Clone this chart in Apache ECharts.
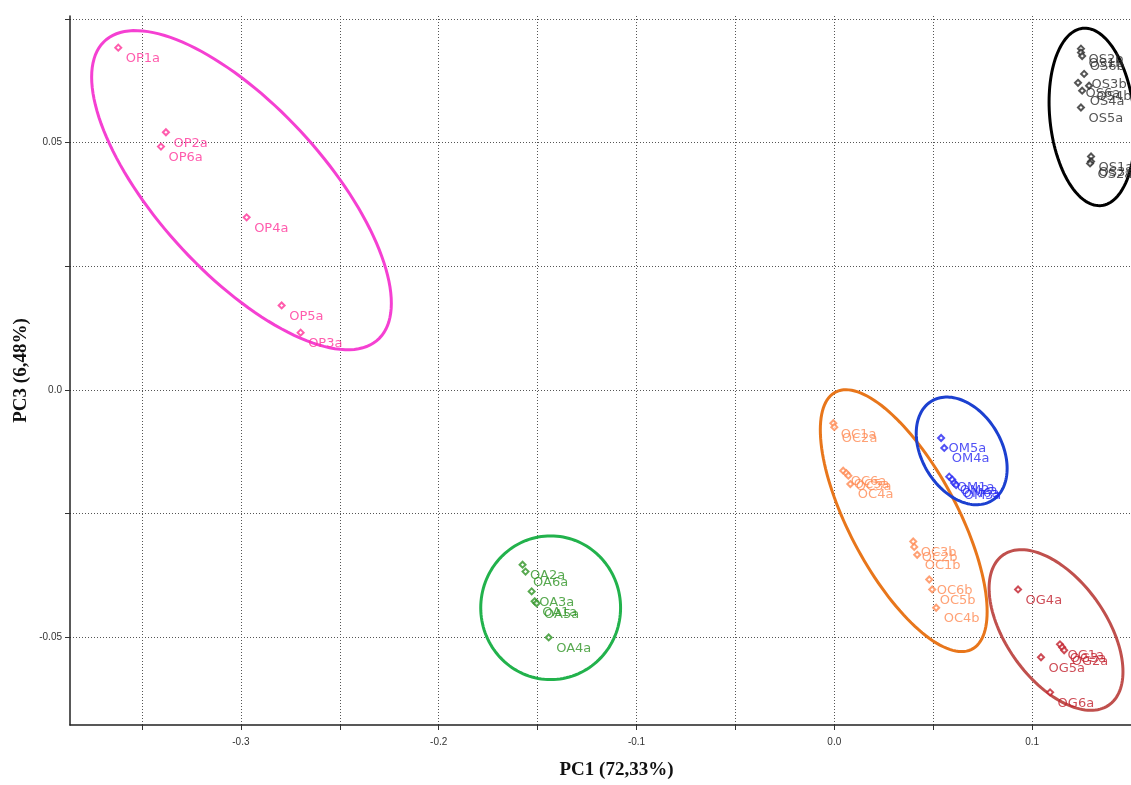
<!DOCTYPE html>
<html>
<head>
<meta charset="utf-8">
<title>PCA scores: PC1 vs PC3</title>
<script src="https://cdn.jsdelivr.net/npm/echarts@6/dist/echarts.min.js"></script>
<style>
  html, body { margin: 0; padding: 0; background: #fff; }
  #chart { width: 1131px; height: 785px; }
</style>
</head>
<body>
<div id="chart"></div>
<script>
// ---- Sample scores (PC1, PC3) per group ----
const opNames = ['OP1a', 'OP2a', 'OP6a', 'OP4a', 'OP5a', 'OP3a'];
const opPC1 = [-0.3620, -0.3379, -0.3404, -0.2971, -0.2794, -0.2698];
const opPC3 = [0.0692, 0.0521, 0.0492, 0.0349, 0.0171, 0.0116];

const osNames = ['OS2b', 'OS1b', 'OS6b', 'OS3b', 'OS6a', 'OS4b', 'OS4a', 'OS5a', 'OS1a', 'OS3a', 'OS2a'];
const osPC1 = [0.1247, 0.1247, 0.1253, 0.1263, 0.1232, 0.1288, 0.1253, 0.1247, 0.1298, 0.1298, 0.1293];
const osPC3 = [0.0690, 0.0682, 0.0675, 0.0639, 0.0621, 0.0615, 0.0605, 0.0571, 0.0472, 0.0462, 0.0458];

const ocNames = ['OC1a', 'OC2a', 'OC6a', 'OC5a', 'OC3a', 'OC4a', 'OC3b', 'OC2b', 'OC1b', 'OC6b', 'OC5b', 'OC4b'];
const ocPC1 = [-0.0005, 0.0000, 0.0045, 0.0061, 0.0071, 0.0081, 0.0399, 0.0404, 0.0419, 0.0480, 0.0495, 0.0515];
const ocPC3 = [-0.0067, -0.0075, -0.0163, -0.0168, -0.0173, -0.0190, -0.0306, -0.0317, -0.0333, -0.0383, -0.0403, -0.0440];

const omNames = ['OM5a', 'OM4a', 'OM1a', 'OM2a', 'OM6a', 'OM3a'];
const omPC1 = [0.0540, 0.0556, 0.0581, 0.0596, 0.0606, 0.0616];
const omPC3 = [-0.0097, -0.0117, -0.0175, -0.0181, -0.0188, -0.0192];

const ogNames = ['OG4a', 'OG1a', 'OG3a', 'OG2a', 'OG5a', 'OG6a'];
const ogPC1 = [0.0929, 0.1141, 0.1152, 0.1162, 0.1045, 0.1091];
const ogPC3 = [-0.0403, -0.0514, -0.0520, -0.0526, -0.0540, -0.0611];

const oaNames = ['OA2a', 'OA6a', 'OA3a', 'OA1a', 'OA5a', 'OA4a'];
const oaPC1 = [-0.1576, -0.1561, -0.1530, -0.1515, -0.1505, -0.1444];
const oaPC3 = [-0.0353, -0.0367, -0.0407, -0.0427, -0.0431, -0.0500];

// ---- Group ellipses: centre and two conjugate semi-axis vectors, in score units ----
const ellipseCentre = {
  OP: [-0.2997, 0.0404], OS: [0.1303, 0.0552], OC: [0.0351, -0.0264],
  OM: [0.0644, -0.0123], OG: [0.1121, -0.0485], OA: [-0.1434, -0.0440]
};
const ellipseAxisU = {
  OP: [0.07576, -0.02285], OS: [0.02172, -0.00300], OC: [0.04217, -0.01835],
  OM: [0.02298, -0.00355], OG: [0.03384, -0.00843], OA: [0.03535, 0]
};
const ellipseAxisV = {
  OP: [0, 0.02276], OS: [0, 0.01768], OC: [0, 0.01907],
  OM: [0, 0.01029], OG: [0, 0.01387], OA: [0, 0.01452]
};

// ---- Axis ticks ----
const pc1Ticks = [-0.35, -0.3, -0.25, -0.2, -0.15, -0.1, -0.05, 0, 0.05, 0.1, 0.15];
const pc1Labels = [-0.3, -0.2, -0.1, 0, 0.1];
const pc3Ticks = [-0.05, -0.025, 0, 0.025, 0.05, 0.075];
const pc3Labels = [-0.05, 0, 0.05];

const groups = [
  { key: 'OP', names: opNames, x: opPC1, y: opPC3, point: '#FF3399', ring: '#F540D2' },
  { key: 'OS', names: osNames, x: osPC1, y: osPC3, point: '#2a2a2a', ring: '#000000' },
  { key: 'OC', names: ocNames, x: ocPC1, y: ocPC3, point: '#FF8A52', ring: '#E8761B' },
  { key: 'OM', names: omNames, x: omPC1, y: omPC3, point: '#2626F2', ring: '#1C40D0' },
  { key: 'OG', names: ogNames, x: ogPC1, y: ogPC3, point: '#C21F2C', ring: '#C0504D' },
  { key: 'OA', names: oaNames, x: oaPC1, y: oaPC3, point: '#2E9424', ring: '#22B24C' }
];

// Closed outline c + u*cos(t) + v*sin(t), mapped through the cartesian axes
function ellipseItem(renderColor) {
  return function (params, api) {
    const cx = api.value(0), cy = api.value(1);
    const ux = api.value(2), uy = api.value(3);
    const vx = api.value(4), vy = api.value(5);
    const pts = [];
    const n = 140;
    for (let i = 0; i <= n; i++) {
      const t = (i / n) * Math.PI * 2;
      const c = Math.cos(t), s = Math.sin(t);
      pts.push(api.coord([cx + ux * c + vx * s, cy + uy * c + vy * s]));
    }
    return {
      type: 'polyline',
      shape: { points: pts },
      style: { stroke: renderColor, fill: null, lineWidth: 3 }
    };
  };
}

const series = [];
groups.forEach(g => {
  const c = ellipseCentre[g.key], u = ellipseAxisU[g.key], v = ellipseAxisV[g.key];
  series.push({
    type: 'custom',
    name: g.key + ' ellipse',
    coordinateSystem: 'cartesian2d',
    clip: false,
    silent: true,
    z: 1,
    encode: { x: 0, y: 1 },
    data: [[c[0], c[1], u[0], u[1], v[0], v[1]]],
    renderItem: ellipseItem(g.ring)
  });
});
groups.forEach(g => {
  series.push({
    type: 'scatter',
    name: g.key,
    z: 3,
    symbol: 'emptyDiamond',
    symbolSize: 6,
    itemStyle: { color: g.point, borderColor: g.point, borderWidth: 0.8 },
    label: {
      show: true,
      position: [11.5, 15],
      align: 'left',
      verticalAlign: 'middle',
      color: g.point,
      fontFamily: 'DejaVu Sans, Verdana, sans-serif',
      fontSize: 13,
      formatter: p => p.data[2]
    },
    labelLayout: { hideOverlap: false },
    emphasis: { disabled: true },
    data: g.names.map((nm, i) => [g.x[i], g.y[i], nm])
  });
});

const gridDots = { show: true, lineStyle: { color: '#555', width: 1, type: [1, 2] } };
const axisFont = { color: '#333', fontSize: 10, fontFamily: 'Liberation Sans, Arial, sans-serif' };
const titleFont = { color: '#111', fontSize: 19, fontWeight: 'bold', fontFamily: 'Liberation Serif, Times New Roman, serif' };

const chart = echarts.init(document.getElementById('chart'), null, { renderer: 'canvas' });
chart.setOption({
  animation: false,
  backgroundColor: '#fff',
  grid: { left: 70, right: -1, top: 16, bottom: 58, containLabel: false },
  xAxis: {
    type: 'value',
    min: -0.3864,
    max: 0.15,
    name: 'PC1 (72,33%)',
    nameLocation: 'middle',
    nameGap: 36,
    nameTextStyle: Object.assign({ padding: [0, 0, 0, 32] }, titleFont),
    axisLine: { show: true, onZero: false, lineStyle: { color: '#222', width: 1.5 } },
    axisTick: { show: true, length: 5, customValues: pc1Ticks, lineStyle: { color: '#333' } },
    axisLabel: Object.assign({ margin: 12, customValues: pc1Labels, formatter: v => v.toFixed(1) }, axisFont),
    splitLine: gridDots
  },
  yAxis: {
    type: 'value',
    min: -0.0677,
    max: 0.0756,
    name: 'PC3 (6,48%)',
    nameLocation: 'middle',
    nameGap: 39,
    nameMoveOverlap: false,
    nameTextStyle: titleFont,
    axisLine: { show: true, onZero: false, lineStyle: { color: '#222', width: 1.5 } },
    axisTick: { show: true, length: 5, customValues: pc3Ticks, lineStyle: { color: '#333' } },
    axisLabel: Object.assign({ margin: 8, customValues: pc3Labels, formatter: v => (v === 0 ? '0.0' : v.toFixed(2)) }, axisFont),
    splitLine: gridDots
  },
  series: series
});
</script>
</body>
</html>
